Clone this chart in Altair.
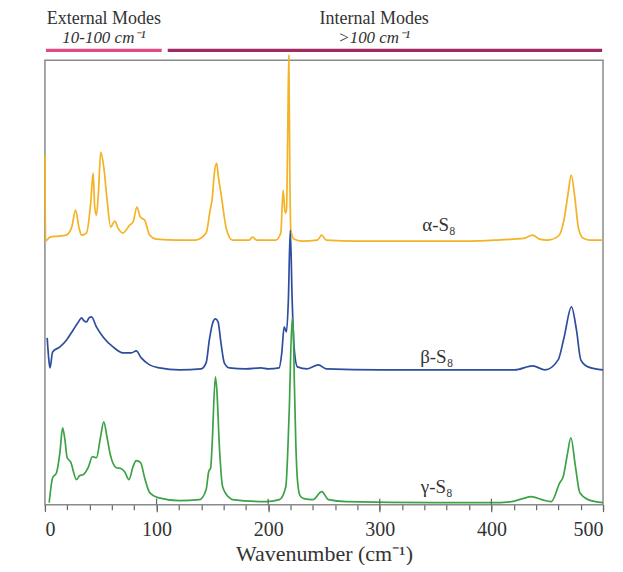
import altair as alt
import pandas as pd

# ---- data (wavenumber in cm-1, intensity in arbitrary units) ----
phases = ["α-S₈", "β-S₈", "γ-S₈"]
phase_colors = ["#F4B224", "#2D4E9E", "#3BA246"]

alpha_x = [0, 0.6, 4.5, 12, 19, 24, 27.4, 30.6, 32.7, 37.2, 41, 43.2, 44.6, 46.1, 47.9, 50, 52.7,
           55.7, 58.9, 62.5, 65.5, 69.9, 75.9, 78.9, 82.4, 85.4, 89.3, 93.8, 99.7, 120, 135, 144.4,
           148, 149.7, 151.8, 153.8, 155.4, 157.7, 162.2, 165.2, 168, 183, 186, 189.6, 206.9, 211.3,
           213.4, 215.2, 216.4, 217.6, 218.5, 219.4, 220.3, 223, 230, 244, 248, 252, 280, 330, 380,
           405, 420, 430, 437, 443, 450, 460, 465, 468.5, 471.5, 474.5, 478, 482, 488, 500]
alpha_y = [350, 264, 268, 269, 270, 278, 295, 277, 270, 272, 302, 332, 298, 290, 312, 353, 338,
           305, 278, 284, 277, 272, 280, 283, 298, 288, 285, 270, 266, 265, 265, 272,
           295, 305, 332, 342, 328, 312, 278, 268, 265, 265, 268, 265, 265, 272,
           315, 292, 295, 380, 450, 330, 275, 266, 264, 265, 270, 265, 264, 264, 264,
           265, 266, 267, 270, 266, 265, 269, 285, 310, 330, 310, 277, 267, 265, 265]

beta_x = [2, 3.5, 4.5, 6.9, 13.4, 19.4, 25.3, 30, 32.8, 35, 37.2, 39.5, 41.7, 46.1, 52.1, 61, 69.9,
          77.4, 81.8, 86.3, 93.8, 102.7, 120.5, 139.9, 144.4, 147.3, 150.3, 152.7, 155.1, 157.7,
          160.7, 165.2, 180, 193.5, 200, 209.8, 212.2, 214.3, 216.4, 218.1, 219.8, 221.5, 223.2,
          226.2, 235, 245, 252, 300, 350, 400, 421, 437, 448, 459.8, 465.2, 471.7, 476.2, 480.1,
          486.6, 500]
beta_y = [167, 145, 137, 153, 158, 165, 175, 183, 187, 184, 183, 187, 188, 178, 168, 158, 152,
          152, 154, 147, 140, 137, 135, 136, 142, 165, 182, 186, 183, 162,
          142, 137, 136, 137, 136, 137, 152, 178, 173, 205, 275, 205, 158,
          138, 136, 140, 136, 135, 135, 135, 135, 139, 135, 145, 168, 198, 175, 145,
          138, 135]

gamma_x = [3.8, 6.9, 10.4, 13.4, 15.8, 17.9, 19.9, 22.9, 28.3, 31, 34.2, 38.7, 42.6, 46.1, 49.7,
           52.7, 55.7, 58.6, 64, 68.5, 71.4, 75.3, 78.9, 81.8, 85.7, 89.3, 93.8, 101.2, 120.5,
           138.4, 144.4, 146.7, 148.5, 149.7, 152.7, 154, 156.3, 159.2, 165.2, 168, 198, 210,
           215.8, 218.8, 221.5, 222.5, 223.5, 224.8, 226.2, 228.5, 232, 240, 248, 254, 270, 350, 400,
           418, 428, 436, 445, 453.6, 461.3, 464.3, 468, 471.2, 475.3, 479.2, 486.6, 500]
gamma_y = [2, 27, 32, 52, 77, 65, 47, 43, 25, 29, 30, 37, 48, 47, 67,
           83, 67, 50, 37, 36, 33, 25, 38, 44, 42, 27, 12, 7, 4,
           5, 15, 33, 37, 58, 128, 115, 58, 18, 7, 5, 3, 5,
           18, 92, 187, 175, 120, 60, 25, 9, 6, 5, 13, 5, 3, 2, 2,
           3, 6, 8, 5, 3, 22, 28, 50, 67, 38, 12, 5, 2]

label_x = [353, 351, 351]
label_y = [280, 148, 18]

region_names = ["External Modes", "Internal Modes"]
region_ranges = ["10-100 cm⁻¹", ">100 cm⁻¹"]
region_start = [0.9, 110]
region_end = [104.6, 499.2]
region_center = [52.8, 295]
region_colors = ["#E24A86", "#9E2A62"]

major_ticks = [0, 100, 200, 300, 400, 500]
inner_ticks = [100, 200, 300, 400]
minor_ticks = list(range(0, 501, 20))

# ---- tables ----
rows = []
for name, xs, ys in zip(phases, [alpha_x, beta_x, gamma_x], [alpha_y, beta_y, gamma_y]):
    for xv, yv in zip(xs, ys):
        rows.append({"wavenumber": xv, "intensity": yv, "phase": name})
spectra = pd.DataFrame(rows)
labels = pd.DataFrame({"phase": phases, "x": label_x, "y": label_y})
regions = pd.DataFrame({"name": region_names, "range": region_ranges, "x0": region_start,
                        "x1": region_end, "xc": region_center, "color": region_colors})
minor_df = pd.DataFrame({"t": minor_ticks})
inner_df = pd.DataFrame({"t": inner_ticks})

FONT = "Liberation Serif"
xscale = alt.Scale(domain=[0, 500], nice=False)
yscale = alt.Scale(domain=[0, 445], nice=False, zero=False)

lines = alt.Chart(spectra).mark_line(strokeWidth=1.7, interpolate="monotone").encode(
    x=alt.X("wavenumber:Q", scale=xscale,
            axis=alt.Axis(values=major_ticks, orient="bottom", tickSize=7, tickColor="#666",
                          tickWidth=1.2, domain=False, grid=False, labelFont=FONT,
                          labelFontSize=20, labelColor="#333", labelPadding=8,
                          title="Wavenumber (cm⁻¹)", titleFont=FONT, titleFontSize=22,
                          titleFontWeight="normal", titleColor="#333", titlePadding=4)),
    y=alt.Y("intensity:Q", scale=yscale,
            axis=alt.Axis(ticks=False, labels=False, domain=False, grid=False, minExtent=0,
                          title="Intensity (a.u.)", titleFont=FONT, titleFontSize=22,
                          titleFontWeight="normal", titleColor="#333", titlePadding=12)),
    color=alt.Color("phase:N", scale=alt.Scale(domain=phases, range=phase_colors), legend=None),
    detail="phase:N",
)

minor = alt.Chart(minor_df).mark_point(opacity=0).encode(
    x=alt.X("t:Q", scale=xscale,
            axis=alt.Axis(values=minor_ticks, orient="bottom", tickSize=5, tickColor="#666",
                          tickWidth=1.2, labels=False, domain=False, grid=False, title=None)),
    y=alt.value(0),
)

inner = alt.Chart(inner_df).mark_rule(color="#666", strokeWidth=1.2).encode(
    x=alt.X("t:Q", scale=xscale, axis=None),
    y=alt.value(439), y2=alt.value(445),
)

phase_text = alt.Chart(labels).mark_text(font=FONT, fontSize=19, color="#333").encode(
    x=alt.X("x:Q", scale=xscale, axis=None),
    y=alt.Y("y:Q", scale=yscale, axis=None),
    text="phase:N",
)

region_title = alt.Chart(regions).mark_text(font=FONT, fontSize=18, color="#333").encode(
    x=alt.X("xc:Q", scale=xscale, axis=None), y=alt.value(-41), text="name:N")
region_range = alt.Chart(regions).mark_text(font=FONT, fontSize=17, fontStyle="italic",
                                            color="#333").encode(
    x=alt.X("xc:Q", scale=xscale, axis=None), y=alt.value(-22), text="range:N")
region_bar = alt.Chart(regions).mark_rule(strokeWidth=3.2).encode(
    x=alt.X("x0:Q", scale=xscale, axis=None), x2="x1:Q", y=alt.value(-10),
    color=alt.Color("color:N", scale=None, legend=None))

chart = alt.layer(lines, minor, inner, phase_text, region_title, region_range, region_bar).resolve_axis(
    x="independent").resolve_scale(color="independent").properties(
    width=559, height=445,
    autosize=alt.AutoSizeParams(type="none"),
    padding={"left": 37, "top": 52, "right": 12, "bottom": 60},
    background="white",
).configure_view(stroke="#8a8a8a", strokeWidth=1.5)

chart.save("out.html", embed_options={"renderer": "svg", "actions": False})
